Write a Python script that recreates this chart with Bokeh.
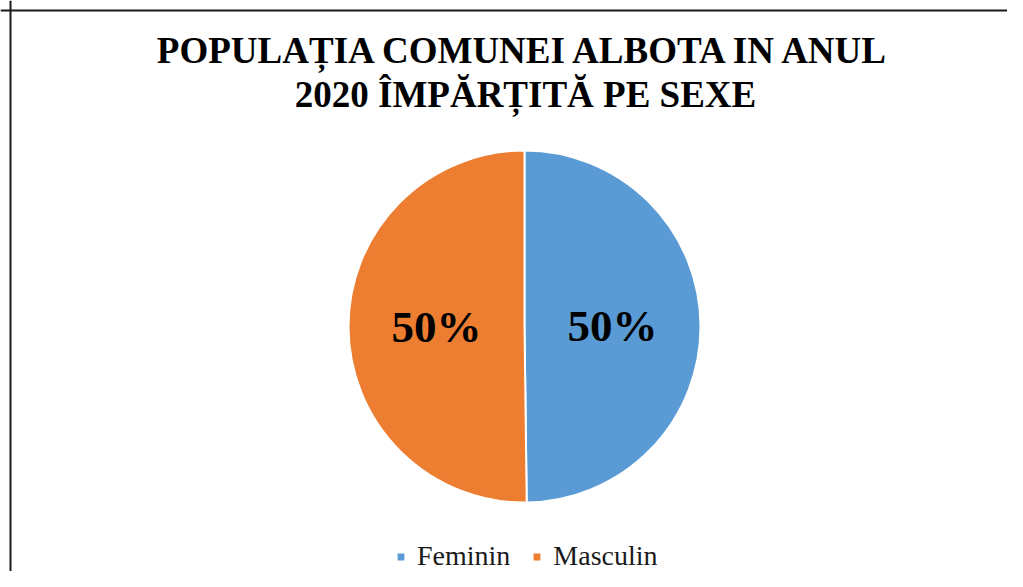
import math
from bokeh.plotting import figure
from bokeh.models import ColumnDataSource, Legend, LegendItem, Span, Range1d
from bokeh.core.properties import value
from bokeh.embed import file_html
from bokeh.resources import INLINE

title_lines = ["POPULAȚIA COMUNEI ALBOTA IN ANUL", "2020 ÎMPĂRȚITĂ PE SEXE"]
categories = ["Feminin", "Masculin"]
shares = [49.8, 50.2]
colors = ["#5B9BD5", "#ED7D31"]
pct_labels = ["50%", "50%"]

W, H = 1007, 571
CX, CY, R = 524, 245, 176

p = figure(width=W, height=H, output_backend="svg", toolbar_location=None,
           x_range=Range1d(0, W), y_range=Range1d(0, H), min_border=0,
           x_axis_location=None, y_axis_location=None)
p.grid.visible = False
p.outline_line_color = None
p.background_fill_color = "white"
p.border_fill_color = "white"

# chart border (left and top visible)
p.add_layout(Span(location=10, dimension="height", line_color="#1a1a1a", line_width=2))
p.add_layout(Span(location=H - 10, dimension="width", line_color="#1a1a1a", line_width=2))

total = sum(shares)
starts, ends, lx, ly = [], [], [], []
a = math.pi / 2
for s in shares:
    e = a - 2 * math.pi * s / total
    starts.append(a)
    ends.append(e)
    mid = (a + e) / 2
    lx.append(CX + 0.5 * R * math.cos(mid))
    ly.append(CY + 0.5 * R * math.sin(mid))
    a = e

src = ColumnDataSource(dict(cat=categories, start=starts, end=ends, color=colors,
                            lx=lx, ly=ly, lab=pct_labels,
                            x=[CX] * len(shares), y=[CY] * len(shares)))

r = p.wedge(x="x", y="y", radius=R, start_angle="start", end_angle="end",
            direction="clock", fill_color="color", line_color="white",
            line_width=2, source=src)

p.text(x="lx", y="ly", text="lab", source=src, text_font=value("Liberation Serif"),
       text_font_style="bold", text_font_size="45px", text_align="center",
       text_baseline="middle", text_color="black")

tsrc = ColumnDataSource(dict(x=[525, 525], y=[521, 477], t=title_lines))
p.text(x="x", y="y", text="t", source=tsrc, text_font=value("Liberation Serif"),
       text_font_style="bold", text_font_size="37px", text_align="center",
       text_baseline="alphabetic", text_color="black")

items = [LegendItem(label=c, renderers=[r], index=i) for i, c in enumerate(categories)]
legend = Legend(items=items, orientation="horizontal", location=(395, -1),
                glyph_width=11, glyph_height=11, label_standoff=11, spacing=21,
                padding=0, margin=0, border_line_color=None,
                background_fill_alpha=0, label_text_font="Liberation Serif",
                label_text_font_size="28px", label_text_color="#1a1a1a")
p.add_layout(legend)

open("out.html", "w").write(file_html(p, INLINE))
